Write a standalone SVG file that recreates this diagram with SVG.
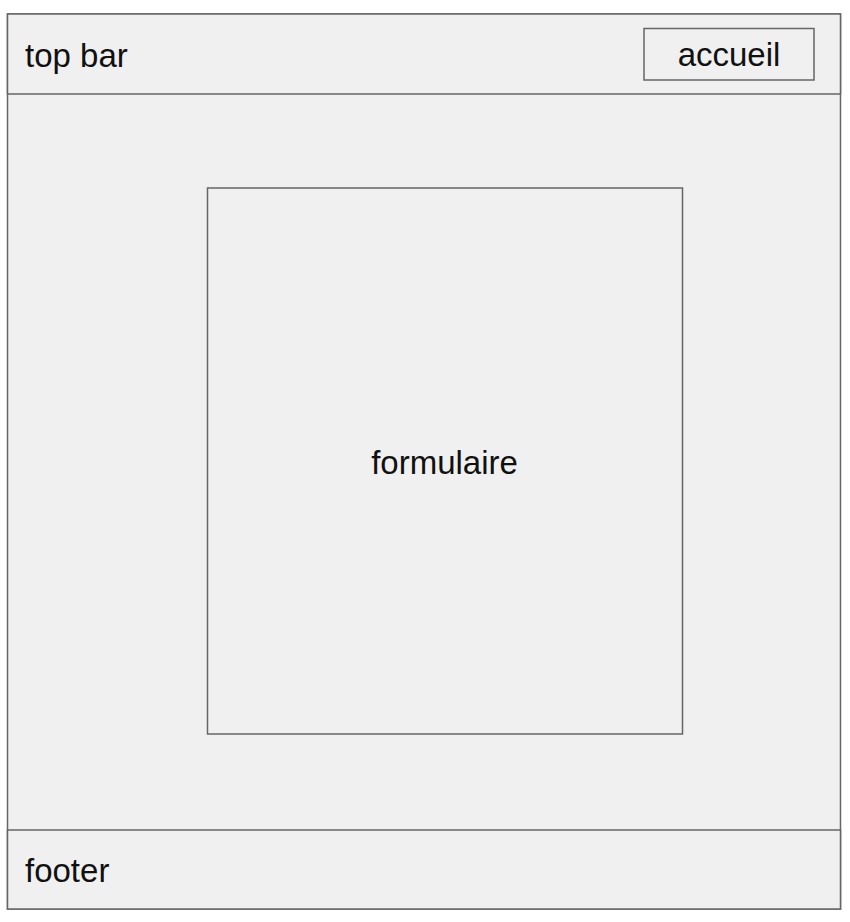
<svg xmlns="http://www.w3.org/2000/svg" width="850" height="922" viewBox="0 0 850 922">
<style>
.box{fill:#f0f0f0;stroke:#666666;stroke-width:1.5}
.t{font-family:"Liberation Sans",Arial,sans-serif;font-size:33px;fill:#111111}
</style>
<rect width="850" height="922" fill="#ffffff"/>
<g id="page">
<rect class="box" x="7.5" y="14" width="833" height="895"/>
</g>
<g id="topbar">
<rect class="box" x="7.5" y="14" width="833" height="80"/>
<text class="t" x="25" y="67">top bar</text>
</g>
<g id="accueil">
<rect class="box" x="644" y="28.5" width="170" height="51.5"/>
<text class="t" x="729" y="66" text-anchor="middle">accueil</text>
</g>
<g id="formulaire">
<rect class="box" x="207.5" y="188" width="475" height="546"/>
<text class="t" x="444.5" y="474" text-anchor="middle">formulaire</text>
</g>
<g id="footer">
<rect class="box" x="7.5" y="830" width="833" height="79"/>
<text class="t" x="25" y="882">footer</text>
</g>
<g id="connectors"></g>
</svg>
